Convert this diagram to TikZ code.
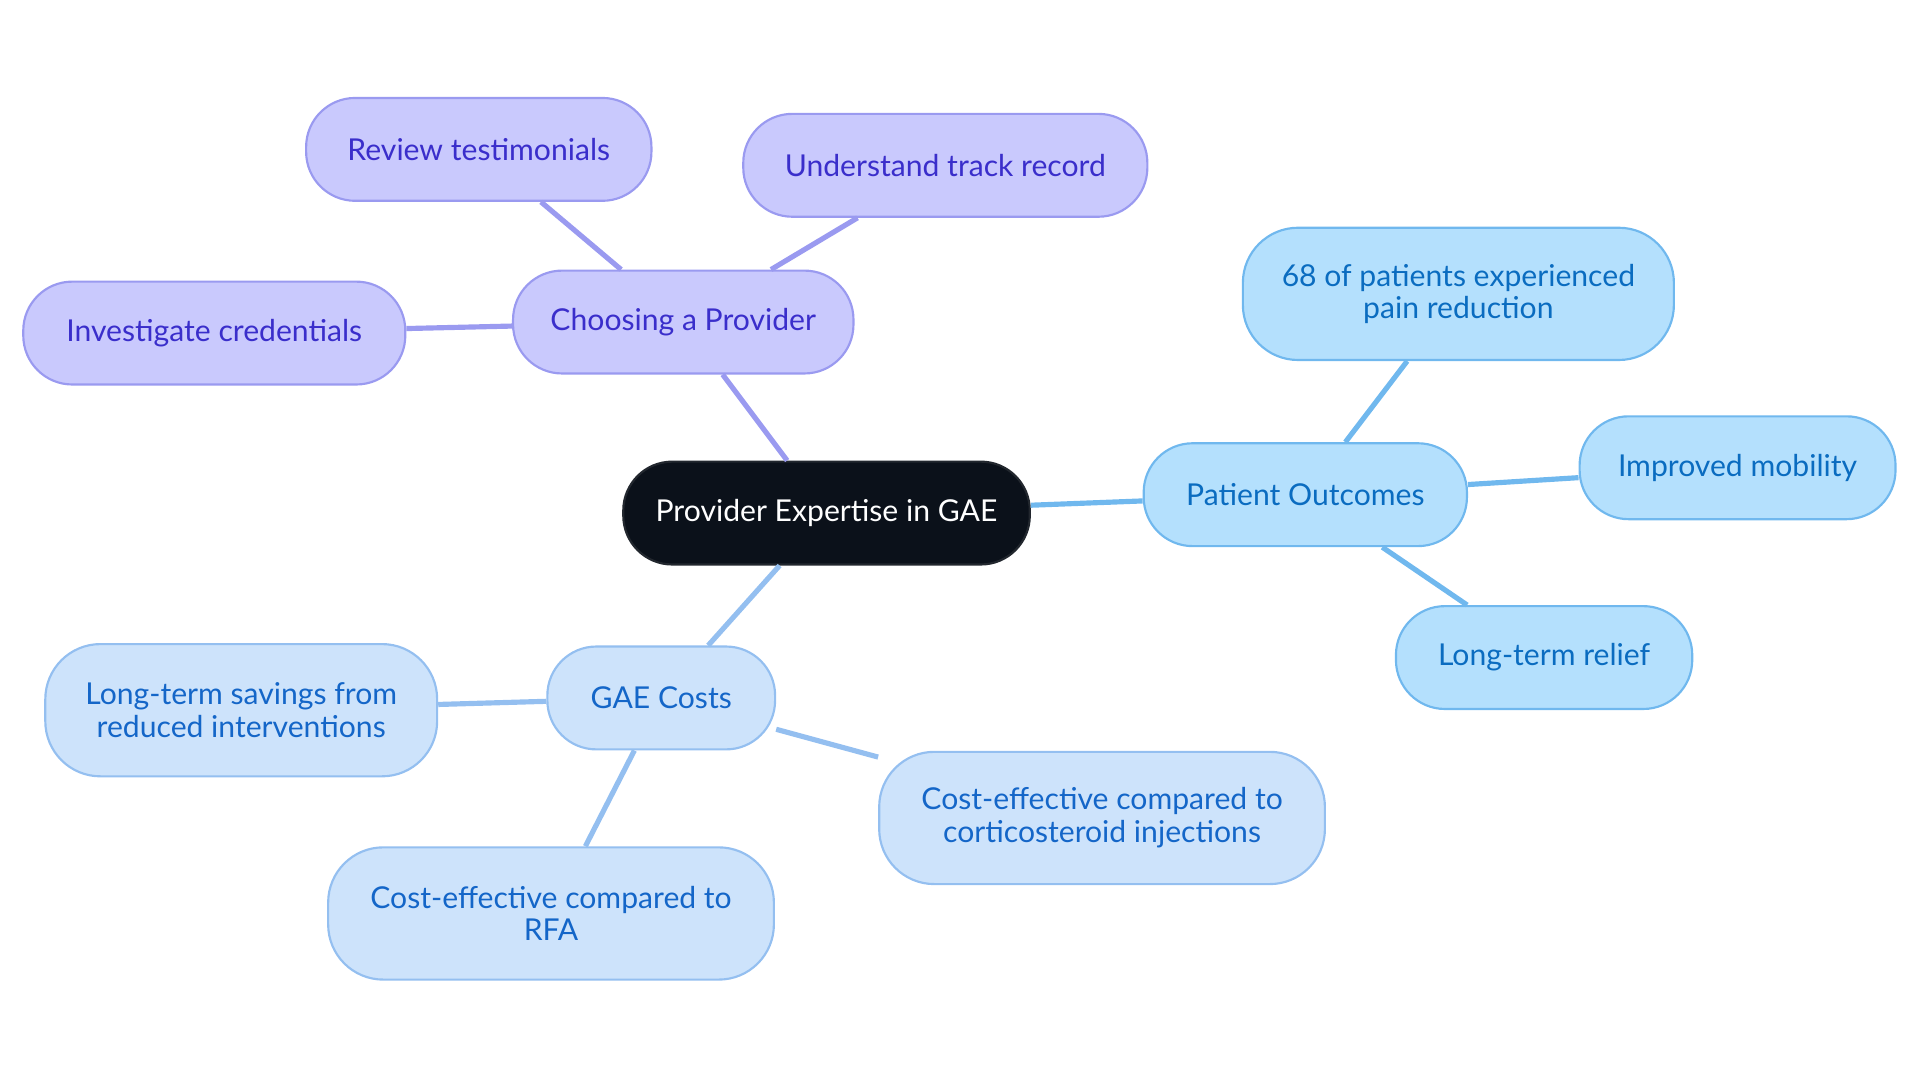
\documentclass[tikz,border=0pt]{standalone}
\usepackage{fontspec}
\setmainfont{Lato}
\definecolor{rootfill}{HTML}{0B111A}
\definecolor{purfill}{HTML}{C9C9FD}
\definecolor{purline}{HTML}{9A9AF0}
\definecolor{purtext}{HTML}{3A2ECB}
\definecolor{bluefill}{HTML}{B4E0FD}
\definecolor{blueline}{HTML}{70B8EE}
\definecolor{bluetext}{HTML}{0A6CC0}
\definecolor{palefill}{HTML}{CDE3FB}
\definecolor{paleline}{HTML}{94BFF0}
\definecolor{paletext}{HTML}{1466C8}
\tikzset{
  box/.style={draw, line width=0.5pt, rounded corners=0.4cm, align=center,
    inner sep=2pt, minimum height=0.84cm, font=\fontsize{7}{7.6}\selectfont},
  root/.style={box, fill=rootfill, draw=rootfill!80!gray, text=white},
  pur/.style={box, fill=purfill, draw=purline, text=purtext},
  blu/.style={box, fill=bluefill, draw=blueline, text=bluetext},
  pale/.style={box, fill=palefill, draw=paleline, text=paletext},
  big/.style={minimum height=1.08cm, rounded corners=0.45cm}
}
\begin{document}
\begin{tikzpicture}
  \useasboundingbox (0,0) rectangle (15.68,-8.84);

  % --- nodes ---
  \node[root, minimum width=3.32cm] (gae) at (6.75,-4.19) {Provider Expertise in GAE};

  \node[pur, minimum width=2.78cm] (prov) at (5.58,-2.63) {Choosing a Provider};
  \node[pur, minimum width=2.82cm] (rev) at (3.91,-1.22) {Review testimonials};
  \node[pur, minimum width=3.30cm] (track) at (7.72,-1.35) {Understand track record};
  \node[pur, minimum width=3.12cm] (cred) at (1.75,-2.72) {Investigate credentials};

  \node[blu, minimum width=2.64cm] (out) at (10.66,-4.04) {Patient Outcomes};
  \node[blu, big, minimum width=3.52cm] (pain) at (11.91,-2.40) {68 of patients experienced\\pain reduction};
  \node[blu, minimum width=2.58cm] (mob) at (14.19,-3.82) {Improved mobility};
  \node[blu, minimum width=2.42cm] (relief) at (12.61,-5.37) {Long-term relief};

  \node[pale, minimum width=1.86cm] (cost) at (5.40,-5.70) {GAE Costs};
  \node[pale, big, minimum width=3.20cm] (sav) at (1.97,-5.80) {Long-term savings from\\reduced interventions};
  \node[pale, big, minimum width=3.64cm] (cort) at (9.00,-6.68) {Cost-effective compared to\\corticosteroid injections};
  \node[pale, big, minimum width=3.64cm] (rfa) at (4.50,-7.46) {Cost-effective compared to\\RFA};

  % --- connectors ---
  \begin{scope}[line width=1.2pt]
    \draw[purline] (gae) -- (prov);
    \draw[purline] (prov) -- (rev);
    \draw[purline] (prov) -- (track);
    \draw[purline] (prov) -- (cred);
    \draw[blueline] (gae) -- (out);
    \draw[blueline] (out) -- (pain);
    \draw[blueline] (out) -- (mob);
    \draw[blueline] (out) -- (relief);
    \draw[paleline] (gae) -- (cost);
    \draw[paleline] (cost) -- (sav);
    \draw[paleline] (cost) -- (cort);
    \draw[paleline] (cost) -- (rfa);
  \end{scope}
\end{tikzpicture}
\end{document}
